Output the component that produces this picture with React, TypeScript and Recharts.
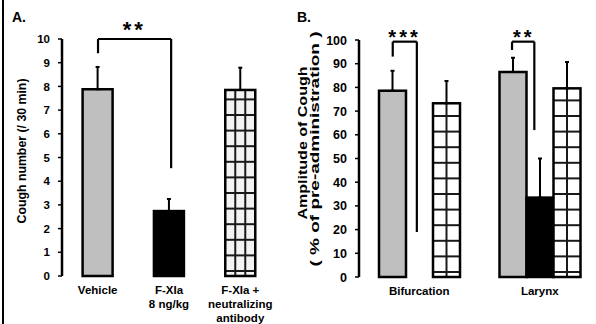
import React from 'react';
import { BarChart, Bar, XAxis, YAxis, ErrorBar, ReferenceLine, ReferenceDot } from 'recharts';

// Panel A: cough number
const coughGroups = ['Vehicle', 'F-XIa 8 ng/kg', 'F-XIa + neutralizing antibody'];
const coughTickLines = [['Vehicle'], ['F-XIa', '8 ng/kg'], ['F-XIa +', 'neutralizing', 'antibody']];
const coughKinds = ['gray', 'black', 'check'];
const coughMeans = [7.88, 2.74, 7.85];
const coughErrors = [0.94, 0.51, 0.94];
const coughPos = [0.5, 1.5, 2.5];
const coughTicks = [0, 1, 2, 3, 4, 5, 6, 7, 8, 9, 10];
const coughBrackets = [{ from: 0.505, to: 1.53, top: 10, leftEnd: 9.4, rightEnd: 4.55, stars: '**', starX: 1.014 }];

// Panel B: amplitude of cough
const sites = ['Bifurcation', 'Larynx'];
const sitePos = [0.5, 1.5];
const vehicleAmp = [78.6, 86.5];
const vehicleAmpErr = [8.4, 6.0];
const fxiaAmp = [null, 33.5];
const fxiaAmpErr = [null, 16.5];
const antibodyAmp = [73.3, 79.6];
const antibodyAmpErr = [9.4, 11.1];
const ampTicks = [0, 10, 20, 30, 40, 50, 60, 70, 80, 90, 100];
const ampBrackets = [
  { from: 0.28, to: 0.48, top: 99.3, leftEnd: 93, rightEnd: 19, stars: '***', starX: 0.378 },
  { from: 1.27, to: 1.455, top: 99.3, leftEnd: 95.8, rightEnd: 62, stars: '**', starX: 1.367 },
];

const FONT = '"Liberation Sans", Arial, Helvetica, sans-serif';
const GRAY = '#bfbfbf';

const coughData = coughGroups.map((g, i) => ({
  group: g,
  pos: coughPos[i],
  kind: coughKinds[i],
  value: coughMeans[i],
  err: [0, coughErrors[i]],
}));

const ampData = sites.map((s, i) => ({
  site: s,
  pos: sitePos[i],
  vehicle: vehicleAmp[i],
  vehicleErr: [0, vehicleAmpErr[i]],
  fxia: fxiaAmp[i],
  fxiaErr: fxiaAmpErr[i] == null ? null : [0, fxiaAmpErr[i]],
  antibody: antibodyAmp[i],
  antibodyErr: [0, antibodyAmpErr[i]],
}));

function Checker({ x, y, width, height, cols, fill }: any) {
  if (!height || height <= 0) return null;
  const vs: number[] = [];
  for (let i = 1; i < cols; i++) vs.push(x + (width * i) / cols);
  const hs: number[] = [];
  for (let yy = y + height - 5; yy > y + 3; yy -= 15.6) hs.push(yy);
  return (
    <g>
      <rect x={x} y={y} width={width} height={height} fill={fill} />
      {vs.map((vx, i) => (
        <line key={'v' + i} x1={vx} x2={vx} y1={y} y2={y + height} stroke="#1a1a1a" strokeWidth={2} />
      ))}
      {hs.map((hy, i) => (
        <line key={'h' + i} x1={x} x2={x + width} y1={hy} y2={hy} stroke="#1a1a1a" strokeWidth={2} />
      ))}
      <rect x={x} y={y} width={width} height={height} fill="none" stroke="#000" strokeWidth={2.5} />
    </g>
  );
}

function SolidBar({ x, y, width, height, fill }: any) {
  if (!height || height <= 0) return null;
  return <rect x={x} y={y} width={width} height={height} fill={fill} stroke="#000" strokeWidth={2.5} />;
}

function CoughBarShape(props: any) {
  const kind = props.payload?.kind;
  if (kind === 'check') return <Checker {...props} cols={3} fill="#f3f3f3" />;
  return <SolidBar {...props} fill={kind === 'gray' ? GRAY : '#000'} />;
}

function MultiLineTick({ x, y, payload, groups, lines }: any) {
  const idx = groups.indexOf(payload.value);
  const rows = idx >= 0 ? lines[idx] : [payload.value];
  return (
    <text x={x} y={y} textAnchor="middle" fontFamily={FONT} fontWeight="bold" fontSize={11.5} fill="#000">
      {rows.map((r: string, i: number) => (
        <tspan key={i} x={x} y={y + 18 + i * 14}>
          {r}
        </tspan>
      ))}
    </text>
  );
}

function ValueTick({ x, y, payload, size }: any) {
  return (
    <text x={x} y={y} dy="0.36em" textAnchor="end" fontFamily={FONT} fontWeight="bold" fontSize={size} fill="#000">
      {payload.value}
    </text>
  );
}

function YTitle({ viewBox, rows }: any) {
  const vb = viewBox || { x: 0, y: 0, width: 0, height: 0 };
  return (
    <g>
      {rows.map((r: any, i: number) => {
        const cx = vb.x + r.dx;
        const cy = r.cy;
        return (
          <text
            key={i}
            x={cx}
            y={cy}
            transform={`rotate(-90, ${cx}, ${cy})`}
            textAnchor="middle"
            fontFamily={FONT}
            fontWeight="bold"
            fontSize={12}
            fill="#000"
            textLength={r.len}
            lengthAdjust="spacingAndGlyphs"
          >
            {r.text}
          </text>
        );
      })}
    </g>
  );
}

function Stars({ cx, cy, text, dy, size }: any) {
  return (
    <text x={cx} y={cy + dy} textAnchor="middle" fontFamily={FONT} fontWeight="bold" fontSize={size} letterSpacing={3} fill="#000">
      {text}
    </text>
  );
}

function bracketLines(b: any, key: string) {
  const common = { xAxisId: 'n', stroke: '#000', strokeWidth: 2.2, ifOverflow: 'visible' as const };
  return [
    <ReferenceLine key={key + 'h'} {...common} segment={[{ x: b.from, y: b.top }, { x: b.to, y: b.top }]} />,
    <ReferenceLine key={key + 'l'} {...common} segment={[{ x: b.from, y: b.top }, { x: b.from, y: b.leftEnd }]} />,
    <ReferenceLine key={key + 'r'} {...common} segment={[{ x: b.to, y: b.top }, { x: b.to, y: b.rightEnd }]} />,
  ];
}

const yAxisStyle = {
  axisLine: { stroke: '#000', strokeWidth: 2.5 },
  tickLine: { stroke: '#000', strokeWidth: 1.5 },
  tickSize: 4,
  tickMargin: 8,
  interval: 0 as const,
};

function CoughChart() {
  return (
    <BarChart width={300} height={324} data={coughData} margin={{ top: 39, right: 24, bottom: 0, left: 0 }} barCategoryGap={20.6}>
      <XAxis
        xAxisId="n"
        type="number"
        dataKey="pos"
        domain={[0, 3]}
        ticks={[0, 1, 2, 3]}
        tick={false}
        tickSize={4}
        height={0}
        axisLine={{ stroke: '#000', strokeWidth: 3 }}
        tickLine={{ stroke: '#000', strokeWidth: 1.5 }}
      />
      <XAxis
        xAxisId="c"
        dataKey="group"
        axisLine={false}
        tickLine={false}
        tickSize={0}
        tickMargin={0}
        height={48}
        interval={0}
        tick={<MultiLineTick groups={coughGroups} lines={coughTickLines} />}
      />
      <YAxis
        domain={[0, 10]}
        ticks={coughTicks}
        width={62}
        {...yAxisStyle}
        tick={<ValueTick size={11.5} />}
        label={{
          content: (p: any) => <YTitle viewBox={p.viewBox} rows={[{ text: 'Cough number (/ 30 min)', dx: 26, cy: 151, len: 145 }]} />,
        }}
      />
      <Bar xAxisId="c" dataKey="value" isAnimationActive={false} shape={<CoughBarShape />}>
        <ErrorBar dataKey="err" direction="y" width={2} stroke="#000" strokeWidth={2} />
      </Bar>
      {coughBrackets.map((b, i) => bracketLines(b, 'a' + i))}
      {coughBrackets.map((b, i) => (
        <ReferenceDot
          key={'as' + i}
          xAxisId="n"
          x={b.starX}
          y={b.top}
          ifOverflow="visible"
          shape={(p: any) => <Stars cx={p.cx} cy={p.cy} text={b.stars} dy={-2} size={22} />}
        />
      ))}
    </BarChart>
  );
}

function AmpChart() {
  return (
    <BarChart width={312} height={324} data={ampData} margin={{ top: 40, right: 0, bottom: 0, left: 0 }} barCategoryGap={20} barGap={0}>
      <XAxis
        xAxisId="n"
        type="number"
        dataKey="pos"
        domain={[0, 2]}
        ticks={[0, 1, 2]}
        tick={false}
        tickSize={3}
        height={0}
        axisLine={{ stroke: '#000', strokeWidth: 3 }}
        tickLine={{ stroke: '#000', strokeWidth: 1.5 }}
      />
      <XAxis
        xAxisId="c"
        dataKey="site"
        axisLine={false}
        tickLine={false}
        tickSize={0}
        tickMargin={0}
        height={47}
        interval={0}
        tick={<MultiLineTick groups={sites} lines={sites.map((s) => [s])} />}
      />
      <YAxis
        domain={[0, 100]}
        ticks={ampTicks}
        width={71}
        {...yAxisStyle}
        tick={<ValueTick size={12.5} />}
        label={{
          content: (p: any) => (
            <YTitle
              viewBox={p.viewBox}
              rows={[
                { text: 'Amplitude of Cough', dx: 19, cy: 143, len: 153 },
                { text: '( % of pre-administration )', dx: 31, cy: 149, len: 235 },
              ]}
            />
          ),
        }}
      />
      <Bar xAxisId="c" dataKey="vehicle" isAnimationActive={false} shape={<SolidBar fill={GRAY} />}>
        <ErrorBar dataKey="vehicleErr" direction="y" width={2} stroke="#000" strokeWidth={2} />
      </Bar>
      <Bar xAxisId="c" dataKey="fxia" isAnimationActive={false} shape={<SolidBar fill="#000" />}>
        <ErrorBar dataKey="fxiaErr" direction="y" width={2} stroke="#000" strokeWidth={2} />
      </Bar>
      <Bar xAxisId="c" dataKey="antibody" isAnimationActive={false} shape={<Checker cols={2} fill="#fff" />}>
        <ErrorBar dataKey="antibodyErr" direction="y" width={2} stroke="#000" strokeWidth={2} />
      </Bar>
      {ampBrackets.map((b, i) => bracketLines(b, 'b' + i))}
      {ampBrackets.map((b, i) => (
        <ReferenceDot
          key={'bs' + i}
          xAxisId="n"
          x={b.starX}
          y={100}
          ifOverflow="visible"
          shape={(p: any) => <Stars cx={p.cx} cy={p.cy} text={b.stars} dy={4} size={20} />}
        />
      ))}
    </BarChart>
  );
}

const titleStyle: React.CSSProperties = {
  position: 'absolute',
  top: 10,
  fontFamily: FONT,
  fontWeight: 'bold',
  fontSize: 14,
  lineHeight: '14px',
  color: '#000',
};

export default function App() {
  return (
    <div style={{ position: 'absolute', top: 0, left: 0, width: 596, height: 324, overflow: 'hidden', background: '#fff' }}>
      <div style={{ position: 'absolute', left: 2, top: 0, width: 2, height: 324, background: '#000' }} />
      <div style={{ position: 'absolute', left: 0, top: 0 }}>
        <CoughChart />
      </div>
      <div style={{ position: 'absolute', left: 288, top: 0 }}>
        <AmpChart />
      </div>
      <div style={{ ...titleStyle, left: 12 }}>A.</div>
      <div style={{ ...titleStyle, left: 297 }}>B.</div>
    </div>
  );
}
